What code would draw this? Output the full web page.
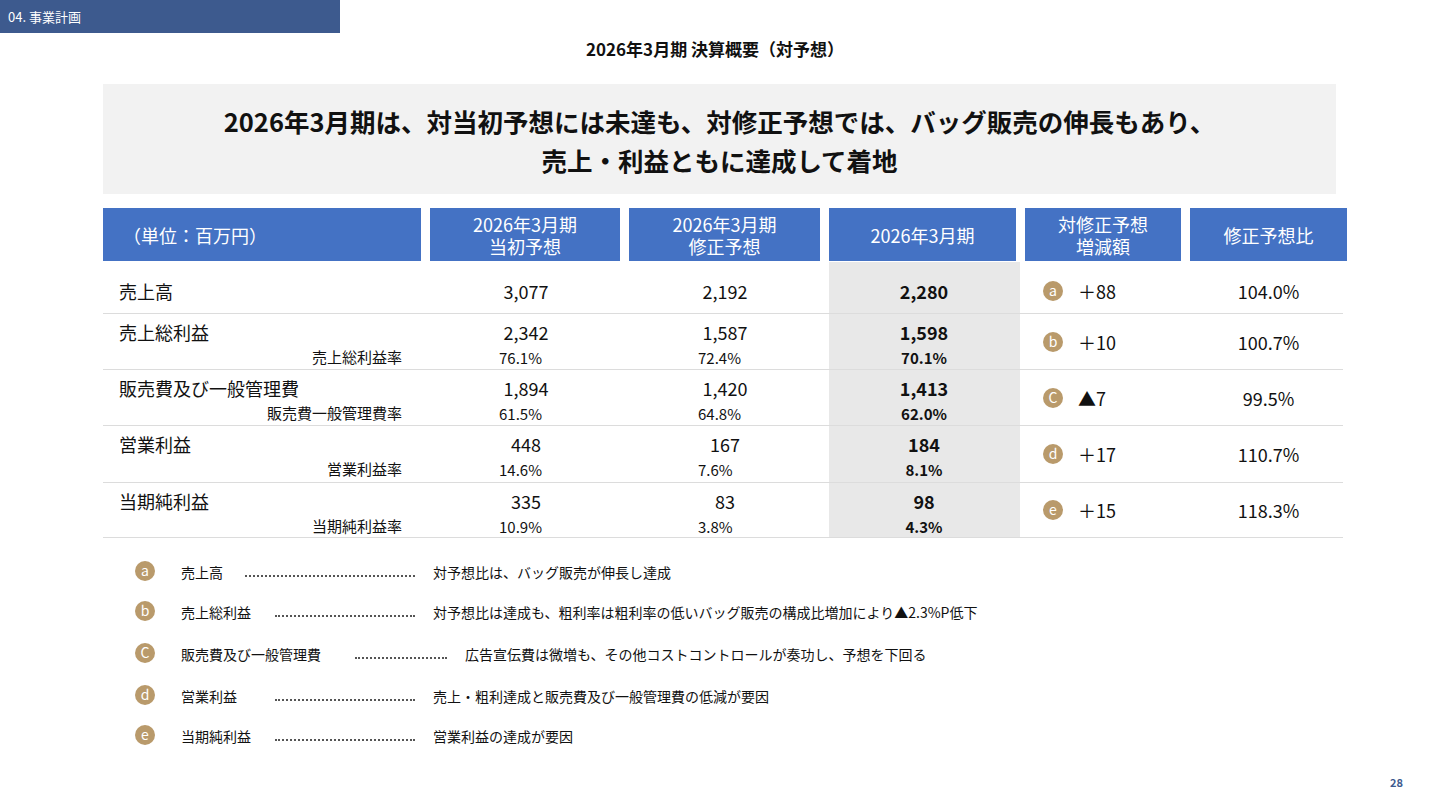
<!DOCTYPE html>
<html><head><meta charset="utf-8">
<script src="https://cdn.jsdelivr.net/npm/chart.js@4"></script>
<style>
body{margin:0;width:1440px;height:810px;background:#fff;font-family:"Noto Sans CJK JP","Noto Sans",sans-serif;color:#111;position:relative;overflow:hidden}
.a{position:absolute}
.tag{left:0;top:0;width:340px;height:33px;background:#3d5a8e;color:#fff;font-size:13px;line-height:33px;padding-left:8px;box-sizing:border-box}
.title{left:0;width:1430px;top:36px;text-align:center;font-size:17px;font-weight:bold}
.box{left:103px;top:84px;width:1233px;height:110px;background:#f2f2f2;text-align:center;font-size:25.5px;font-weight:bold;line-height:39px;padding-top:17px;box-sizing:border-box}
.hd{background:#4472c4;color:#fff;top:208px;height:53px;font-size:18px;text-align:center;display:flex;align-items:center;justify-content:center;line-height:22px}
.gray{left:829px;top:262px;width:191px;height:275px;background:#e8e8e8}
.line{left:103px;width:1240px;height:1px;background:#dcdcdc}
.c{font-size:18px;text-align:center}
.lab{font-size:18px;left:119px}
.sub{font-size:15px}
.circ{width:20px;height:20px;border-radius:50%;background:#b99a6b;color:#fff;font-size:14px;text-align:center;line-height:19px}
.fn{font-size:14px;white-space:nowrap}
.dots{height:0;border-bottom:2px dotted #555}
</style></head><body>
<div class="a tag">04. 事業計画</div>
<div class="a title">2026年3月期 決算概要（対予想）</div>
<div class="a box">2026年3月期は、対当初予想には未達も、対修正予想では、バッグ販売の伸長もあり、<br>売上・利益ともに達成して着地</div>
<div id="root"></div>
<div class="a" style="left:1390px;top:774px;font-size:11px;color:#3d5a8e;font-weight:bold">28</div>
<script>
const headers = ['2026年3月期<br>当初予想','2026年3月期<br>修正予想','2026年3月期','対修正予想<br>増減額','修正予想比'];
const rowLabels = ['売上高','売上総利益','販売費及び一般管理費','営業利益','当期純利益'];
const rateLabels = [null,'売上総利益率','販売費一般管理費率','営業利益率','当期純利益率'];
const initialPlan = ['3,077','2,342','1,894','448','335'];
const revisedPlan = ['2,192','1,587','1,420','167','83'];
const actual = ['2,280','1,598','1,413','184','98'];
const initialRate = [null,'76.1%','61.5%','14.6%','10.9%'];
const revisedRate = [null,'72.4%','64.8%','7.6%','3.8%'];
const actualRate = [null,'70.1%','62.0%','8.1%','4.3%'];
const diffs = ['＋88','＋10','▲7','＋17','＋15'];
const ratios = ['104.0%','100.7%','99.5%','110.7%','118.3%'];
const marks = ['a','b','C','d','e'];
const noteItems = ['売上高','売上総利益','販売費及び一般管理費','営業利益','当期純利益'];
const noteTexts = ['対予想比は、バッグ販売が伸長し達成','対予想比は達成も、粗利率は粗利率の低いバッグ販売の構成比増加により▲2.3%P低下','広告宣伝費は微増も、その他コストコントロールが奏功し、予想を下回る','売上・粗利達成と販売費及び一般管理費の低減が要因','営業利益の達成が要因'];

const root = document.getElementById('root');
function el(cls, style, html){const d=document.createElement('div');d.className='a '+cls;d.style.cssText=style;d.innerHTML=html;root.appendChild(d);return d;}
el('gray','','');
const hx=[[430,190],[629,191],[829,187],[1025,156],[1190,157]];
el('hd','left:103px;width:318px;justify-content:flex-start;padding-left:20px;box-sizing:border-box','（単位：百万円）');
headers.forEach((h,i)=>el('hd',`left:${hx[i][0]}px;width:${hx[i][1]}px`,h));
const rowTop=[268,314,370,426,483], rowBot=[313,369,425,482,537];
rowBot.forEach(y=>el('line',`top:${y}px`,''));
const colC=[526,725,924];
const rateX=[499,698];
for(let r=0;r<5;r++){
  const hasRate=rateLabels[r]!==null;
  const y1=hasRate?rowTop[r]+5:rowTop[r]+10;
  el('lab',`top:${y1}px`,rowLabels[r]);
  if(hasRate) el('sub',`top:${rowTop[r]+32}px;right:${1440-402}px;text-align:right`,rateLabels[r]);
  [initialPlan,revisedPlan,actual].forEach((arr,i)=>{
    el('c',`top:${y1}px;left:${colC[i]-60}px;width:120px;${i==2?'font-weight:bold':''}`,arr[r]);
  });
  if(hasRate){
    el('sub',`top:${rowTop[r]+33}px;left:${rateX[0]}px`,initialRate[r]);
    el('sub',`top:${rowTop[r]+33}px;left:${rateX[1]}px`,revisedRate[r]);
    el('sub',`top:${rowTop[r]+33}px;left:${colC[2]-50}px;width:100px;text-align:center;font-weight:bold`,actualRate[r]);
  }
  const mid=(rowTop[r]+rowBot[r])/2;
  el('circ',`left:1043px;top:${mid-10}px`,marks[r]);
  el('c',`left:1078px;top:${mid-13}px;text-align:left`,diffs[r]);
  el('c',`left:1190px;width:157px;top:${mid-13}px`,ratios[r]);
}
const ny=[571,611,653,695,735];
for(let i=0;i<5;i++){
  el('circ',`left:135px;top:${ny[i]-10}px`,marks[i]);
  el('fn',`left:181px;top:${ny[i]-9}px`,noteItems[i]);
  const dx=i==2?355:(i==0?245:275), tx=i==2?465:433;
  el('dots',`left:${dx}px;top:${ny[i]+4}px;width:${tx-dx-18}px`,'');
  el('fn',`left:${tx}px;top:${ny[i]-9}px`,noteTexts[i]);
}
</script>
</body></html>
